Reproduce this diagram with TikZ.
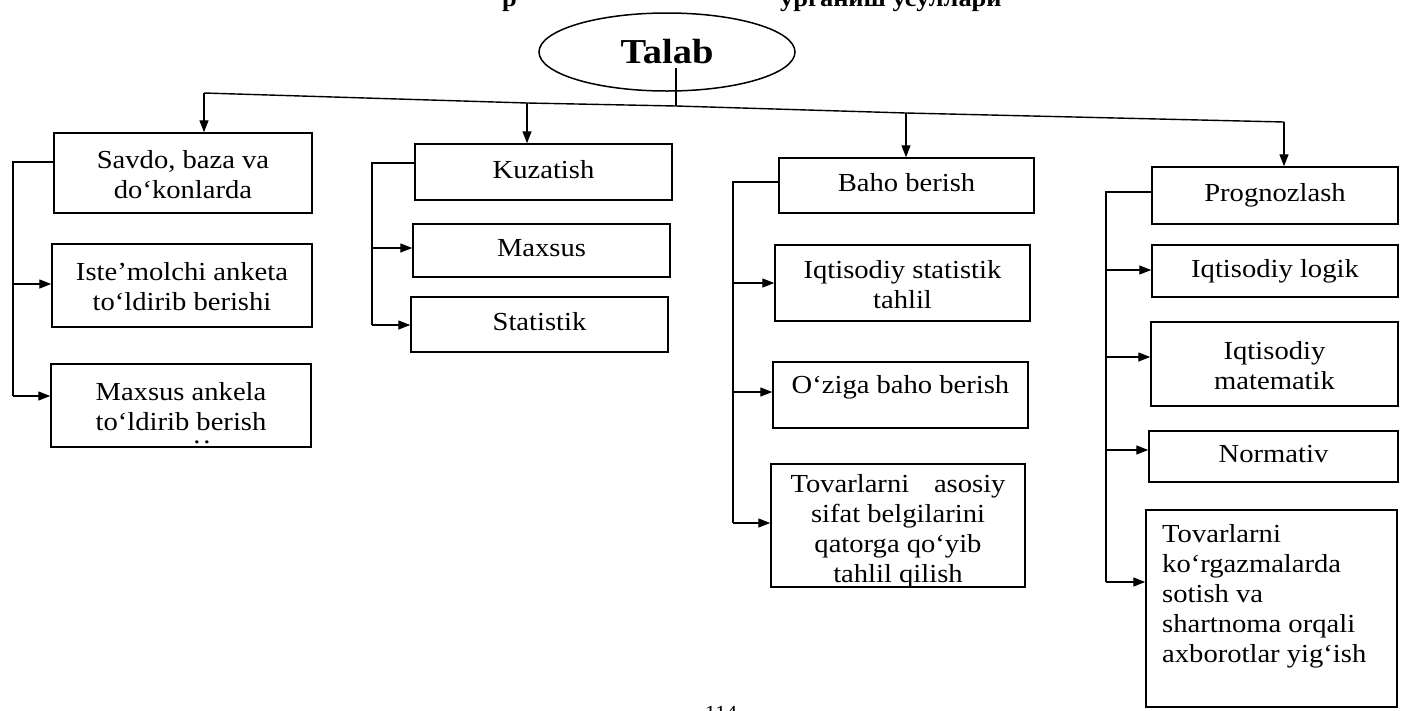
\documentclass[tikz,border=0pt]{standalone}
\usepackage{fontspec}
\setmainfont{Liberation Serif}[FakeStretch=1.1]
\usetikzlibrary{arrows.meta,shapes.geometric}
\begin{document}
\begin{tikzpicture}[x=1pt,y=-1pt,
  box/.style={draw, line width=1.5pt, rectangle, inner sep=0pt, align=center,
    font=\fontsize{26}{30}\selectfont},
  txt/.style={inner sep=0pt, font=\fontsize{26}{30}\selectfont},
  link/.style={draw, line width=1.4pt},
  arr/.style={link, -{Triangle[length=12pt,width=9pt]}},
]
\useasboundingbox (0,0) rectangle (1403,710);

% header fragments (cut off at top)
\node[anchor=base west, inner sep=0pt, font=\bfseries\fontsize{24}{28}\selectfont] (hdra) at (502,6) {р};
\node[anchor=base west, inner sep=0pt, font=\bfseries\fontsize{24}{28}\selectfont] (hdrb) at (780,6) {урганиш усуллари};

% root
\node[draw, ellipse, line width=1.5pt, minimum width=256pt, minimum height=78pt, inner sep=0pt,
  font=\bfseries\fontsize{35}{40}\selectfont] (talab) at (667,52) {Talab};

% column 1
\node[box, minimum width=258pt, minimum height=80pt] (A1) at (183,173) {\strut Savdo, baza va\\do‘konlarda};
\node[box, minimum width=260pt, minimum height=83pt] (A2) at (182,285.5) {\strut Iste’molchi anketa\\to‘ldirib berishi};
\node[box, minimum width=260pt, minimum height=83pt] (A3) at (181,405.5) {\strut Maxsus ankela\\to‘ldirib berish};
\node[txt, anchor=base] (A3d) at (202,443) {.\hspace{3pt}.};

% column 2
\node[box, minimum width=257pt, minimum height=56pt] (B1) at (543.5,172) {\strut Kuzatish};
\node[box, minimum width=257pt, minimum height=53pt] (B2) at (541.5,250.5) {\strut Maxsus};
\node[box, minimum width=257pt, minimum height=55pt] (B3) at (539.5,324.5) {\strut Statistik};

% column 3
\node[box, minimum width=255pt, minimum height=55pt] (C1) at (906.5,185.5) {\strut Baho berish};
\node[box, minimum width=255pt, minimum height=76pt] (C2) at (902.5,283) {\strut Iqtisodiy statistik\\tahlil};
\node[box, minimum width=255pt, minimum height=66pt, text height=18pt, text depth=22pt] (C3) at (900.5,395) {O‘ziga baho berish};
\begin{scope}
  \clip (771,464) rectangle (1025,587);
  \node[txt, anchor=north, align=center] (C4t) at (898,471)
    {\strut\makebox[215pt][s]{Tovarlarni asosiy}\\sifat belgilarini\\qatorga qo‘yib\\tahlil qilish};
\end{scope}
\node[box, minimum width=254pt, minimum height=123pt] (C4) at (898,525.5) {};

% column 4
\node[box, minimum width=246pt, minimum height=57pt] (D1) at (1275,195.5) {\strut Prognozlash};
\node[box, minimum width=246pt, minimum height=52pt] (D2) at (1275,271) {\strut Iqtisodiy logik};
\node[box, minimum width=247pt, minimum height=84pt] (D3) at (1274.5,364) {\strut Iqtisodiy\\matematik};
\node[box, minimum width=249pt, minimum height=51pt] (D4) at (1273.5,456.5) {\strut Normativ};
\node[box, minimum width=251pt, minimum height=197pt] (D5) at (1271.5,608.5) {};
\node[txt, anchor=north west, align=left] (D5t) at (1162,521)
  {\strut Tovarlarni\\ko‘rgazmalarda\\sotish va\\shartnoma orqali\\axborotlar yig‘ish};

% page number (cut off at bottom)
\node[anchor=north, inner sep=0pt, font=\fontsize{20}{24}\selectfont] (pg) at (721,706) {114};

% top distribution line
\coordinate (st) at (676,68);
\coordinate (pa) at (204,93);
\coordinate (pb) at (527,103);
\coordinate (ps) at (676,106);
\coordinate (pc) at (906,113);
\coordinate (pd) at (1284,122);
\draw[link] (st) -- (ps);
\draw[link] (pa) -- (pb) -- (ps) -- (pc) -- (pd);
\draw[arr] (pa) -- (pa |- A1.north);
\draw[arr] (pb) -- (pb |- B1.north);
\draw[arr] (pc) -- (pc |- C1.north);
\draw[arr] (pd) -- (pd |- D1.north);

% bracket column 1
\draw[link] (13,162 -| A1.west) -- (13,162) -- (13,396);
\draw[arr] (13,284) -- (13,284 -| A2.west);
\draw[arr] (13,396) -- (13,396 -| A3.west);

% bracket column 2
\draw[link] (372,163 -| B1.west) -- (372,163) -- (372,325);
\draw[arr] (372,248) -- (372,248 -| B2.west);
\draw[arr] (372,325) -- (372,325 -| B3.west);

% bracket column 3
\draw[link] (733,182 -| C1.west) -- (733,182) -- (733,523);
\draw[arr] (733,283) -- (733,283 -| C2.west);
\draw[arr] (733,392) -- (733,392 -| C3.west);
\draw[arr] (733,523) -- (733,523 -| C4.west);

% bracket column 4
\draw[link] (1106,192 -| D1.west) -- (1106,192) -- (1106,582);
\draw[arr] (1106,270) -- (1106,270 -| D2.west);
\draw[arr] (1106,357) -- (1106,357 -| D3.west);
\draw[arr] (1106,450) -- (1106,450 -| D4.west);
\draw[arr] (1106,582) -- (1106,582 -| D5.west);
\end{tikzpicture}
\end{document}
